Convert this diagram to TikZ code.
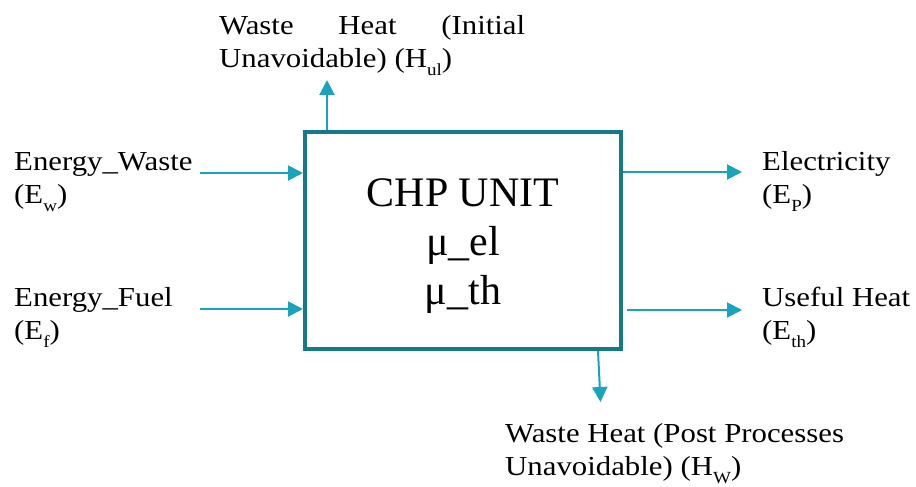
\documentclass[tikz,border=0pt]{standalone}
\usepackage{fontspec}
\setmainfont{Liberation Serif}
\newfontfamily\labfont[FakeStretch=1.12]{Liberation Serif}
\usetikzlibrary{arrows.meta,calc}
\definecolor{boxteal}{RGB}{20,122,138}
\definecolor{flowteal}{RGB}{26,163,189}
\newcommand\subtxt[1]{\raisebox{-8pt}{\fontsize{17}{17}\selectfont #1}}
\begin{document}
\begin{tikzpicture}[x=1pt,y=-1pt,
  lab/.style={inner sep=0pt, anchor=base west, align=left, text=black,
    font=\labfont\fontsize{27.5}{33}\selectfont},
  boxtext/.style={align=center, text=black, font=\fontsize{42}{49}\selectfont},
  flow/.style={draw=flowteal, line width=2pt, -{Triangle[length=15pt,width=15pt]}},
  unitbox/.style={draw=boxteal, line width=4pt, minimum width=316pt, minimum height=217pt, inner sep=0pt},
  ]
\fill[white] (0,0) rectangle (916,487);
\useasboundingbox (0,0) rectangle (916,487);

% unit
\node[unitbox] (chp) at (463,240.5) {};
\node[boxtext] (chpt) at (463,246) {CHP UNIT\\μ\_el\\μ\_th};

% labels (anchor = baseline of the last line)
\node[lab] (lHul) at (219,68) {\hbox to 306pt{Waste\hfill Heat\hfill (Initial}\\Unavoidable) (H\subtxt{ul})};
\node[lab] (lEw) at (14,203) {Energy\_Waste\\(E\subtxt{w})};
\node[lab] (lEf) at (14,339) {Energy\_Fuel\\(E\subtxt{f})};
\node[lab] (lEp) at (762,203) {Electricity\\(E\subtxt{P})};
\node[lab] (lEth) at (762,339) {Useful Heat\\(E\subtxt{th})};
\node[lab] (lHw) at (505,475) {Waste Heat (Post Processes\\Unavoidable) (H\subtxt{W})};

% free ends
\coordinate (ewS) at (200,173);
\coordinate (efS) at (200,309);
\coordinate (epE) at (742,172);
\coordinate (thE) at (742,310);
\coordinate (hulE) at (327,80);
\coordinate (hwE) at (600.5,402);

% connectors
\draw[flow] (ewS) -- (ewS -| chp.west);
\draw[flow] (efS) -- (efS -| chp.west);
\draw[flow] (epE -| chp.east) -- (epE);
\draw[flow] ($(thE -| chp.east)+(4,0)$) -- (thE);
\draw[flow] (hulE |- chp.north) -- (hulE);
\draw[flow] ($(chp.south)+(135,0)$) -- (hwE);
\end{tikzpicture}
\end{document}
